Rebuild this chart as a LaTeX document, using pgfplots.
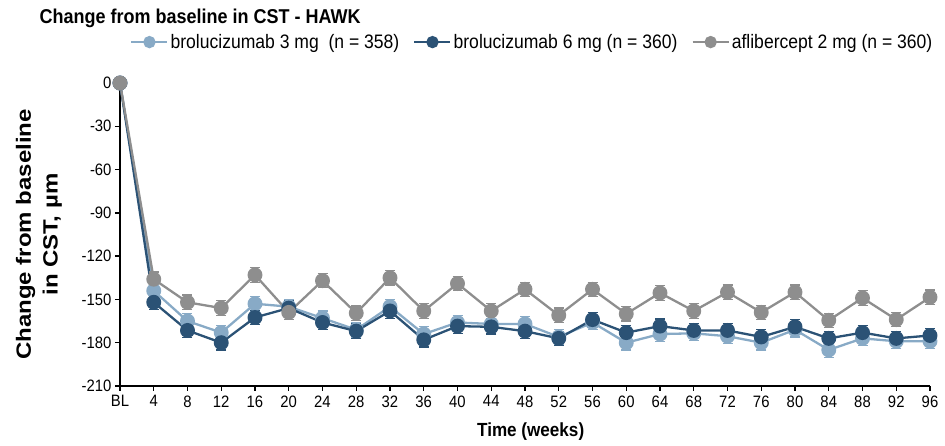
\documentclass[border=0pt]{standalone}
\usepackage{fontspec}
\setmainfont{Liberation Sans}[FakeStretch=0.9]
\newfontfamily\ylf{Liberation Sans}
\usepackage{graphicx}
\usepackage{pgfplots}
\usepackage{pgfplotstable}
\pgfplotsset{compat=1.18}
\definecolor{lb}{HTML}{88AAC6}
\definecolor{db}{HTML}{2B5275}
\definecolor{gr}{HTML}{8E8E8E}
\pgfplotstableread{
x y e
0 0 0
4 -144 5
8 -165 5
12 -173 5
16 -153 5
20 -155 5
24 -163 5
28 -171 5
32 -155 5
36 -174 5
40 -166 5
44 -167 5
48 -167 5
52 -176 5
56 -166 5
60 -180 5
64 -174 5
68 -173.5 5
72 -175.5 5
76 -180 5
80 -171 5
84 -185 5
88 -177 5
92 -179 5
96 -179 5
}\lightdata
\pgfplotstableread{
x y e
0 0 0
4 -152 5
8 -171.5 5
12 -180 5
16 -162.5 5
20 -156 5
24 -166 5
28 -172 5
32 -158 5
36 -178 5
40 -168.5 5
44 -169 5
48 -172 5
52 -177 5
56 -164 5
60 -173 5
64 -168.5 5
68 -171.5 5
72 -171.5 5
76 -176 5
80 -169 5
84 -177 5
88 -173 5
92 -177 5
96 -175 5
}\darkdata
\pgfplotstableread{
x y e
0 0 0
4 -136 5
8 -152 5
12 -156 5
16 -133 5
20 -159 5
24 -137 5
28 -159.5 5
32 -135 5
36 -158 5
40 -139 5
44 -158 5
48 -143 5
52 -161 5
56 -143 5
60 -160 5
64 -145.5 5
68 -158 5
72 -145 5
76 -159 5
80 -145 5
84 -164.5 5
88 -149 5
92 -164 5
96 -148.5 5
}\greydata
\pgfplotsset{
  ser/.style={color=#1, line width=2.3pt, mark=*, mark size=6.3pt,
    mark options={solid, fill=#1, draw=#1},
    error bars/.cd, y dir=both, y explicit,
    error bar style={line width=1.2pt, #1},
    error mark options={rotate=90, mark size=5pt, line width=1.2pt, #1}},
}
\begin{document}
\begin{tikzpicture}
\useasboundingbox (-120pt,-60pt) rectangle (825pt,386pt);
\begin{axis}[
  at={(0,0)}, anchor=south west,
  scale only axis, width=810pt, height=303pt,
  xmin=0, xmax=96, ymin=-210, ymax=0,
  axis x line*=bottom, axis y line*=left,
  axis line style={line width=1.8pt, -},
  xtick={0,4,...,96},
  xticklabels={BL,4,8,12,16,20,24,28,32,36,40,44,48,52,56,60,64,68,72,76,80,84,88,92,96},
  ytick={-210,-180,...,0},
  tick align=outside, major tick length=5pt,
  tick style={line width=1.4pt, black},
  tick label style={font=\fontsize{16.5}{18}\selectfont},
  xticklabel style={yshift=-1pt},
  /pgf/number format/assume math mode=true,
  clip=false,
  xlabel={Time (weeks)},
  xlabel style={font=\bfseries\fontsize{19}{21}\selectfont, at={(axis description cs:0.507,0)}, anchor=center, yshift=-46pt},
  ylabel={\scalebox{1}[0.86]{\ylf\bfseries\fontsize{24}{31}\selectfont\begin{tabular}{@{}c@{}}Change from baseline\\in CST, µm\end{tabular}}},
  ylabel style={at={([xshift=-81pt]axis description cs:0,0.5)}, anchor=center},
  legend columns=3,
  legend style={at={(0.509,1.135)}, anchor=center, draw=none, fill=none,
    font=\fontsize{19.5}{21}\selectfont,
    /tikz/every even column/.append style={column sep=12pt}},
  legend image code/.code={\draw[mark repeat=2, mark phase=2, #1, mark size=5pt] plot coordinates {(0pt,0pt) (18pt,0pt) (36pt,0pt)};},
]
\addplot[ser=lb] table[x=x, y=y, y error=e] {\lightdata};
\addlegendentry{brolucizumab 3 mg\ \ (n = 358)}
\addplot[ser=db] table[x=x, y=y, y error=e] {\darkdata};
\addlegendentry{brolucizumab 6 mg (n = 360)}
\addplot[ser=gr] table[x=x, y=y, y error=e] {\greydata};
\addlegendentry{aflibercept 2 mg (n = 360)}
\end{axis}
\node[anchor=west, font=\bfseries\fontsize{20}{22}\selectfont] at (-84pt,368pt) {Change from baseline in CST - HAWK};
\end{tikzpicture}
\end{document}
